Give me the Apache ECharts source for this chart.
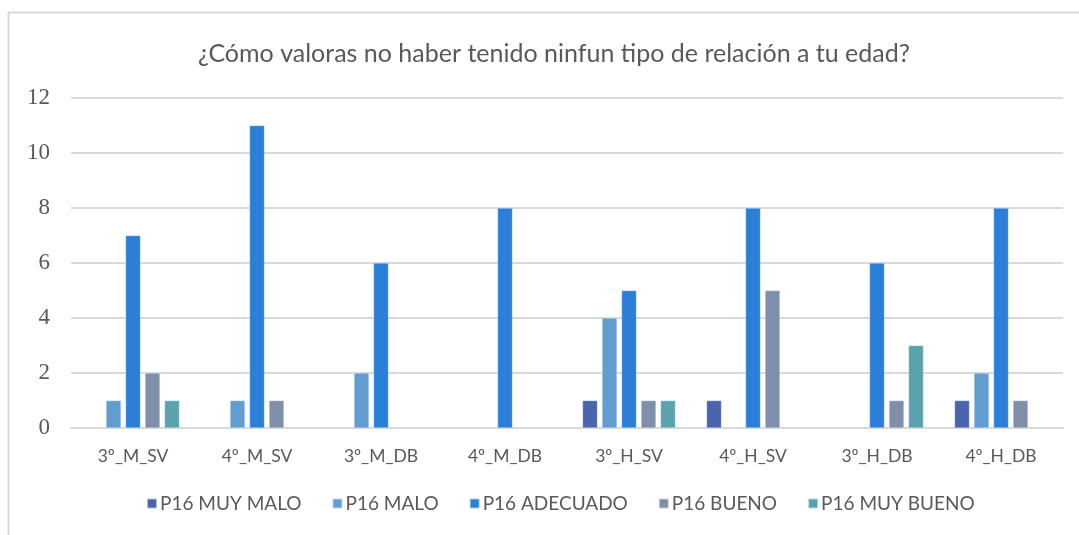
<!DOCTYPE html>
<html>
<head>
<meta charset="utf-8">
<script src="https://cdn.jsdelivr.net/npm/echarts@6/dist/echarts.min.js"></script>
<style>
  html, body { margin: 0; padding: 0; background: #fff; }
  #container { width: 1079px; height: 535px; }
</style>
</head>
<body>
<div id="container"></div>
<script>
var chartTitle = '¿Cómo valoras no haber tenido ninfun tipo de relación a tu edad?';
var categories = ['3º_M_SV', '4º_M_SV', '3º_M_DB', '4º_M_DB', '3º_H_SV', '4º_H_SV', '3º_H_DB', '4º_H_DB'];
var seriesNames = ['P16 MUY MALO', 'P16 MALO', 'P16 ADECUADO', 'P16 BUENO', 'P16 MUY BUENO'];
var muyMalo  = [0, 0, 0, 0, 1, 1, 0, 1];
var malo     = [1, 1, 2, 0, 4, 0, 0, 2];
var adecuado = [7, 11, 6, 8, 5, 8, 6, 8];
var bueno    = [2, 1, 0, 0, 1, 5, 1, 1];
var muyBueno = [1, 0, 0, 0, 1, 0, 3, 0];
var colors = ['#4a65ad', '#629dd1', '#2a7fd6', '#7f8fa9', '#5aa3ae'];

var seriesData = [muyMalo, malo, adecuado, bueno, muyBueno];

var chart = echarts.init(document.getElementById('container'));

// cero = sin barra
function toBars(arr) {
    return arr.map(function (v) { return v === 0 ? null : v; });
}

var series = seriesNames.map(function (name, i) {
    return {
        name: name,
        type: 'bar',
        data: toBars(seriesData[i]),
        barWidth: 15,
        barGap: '30%',
        itemStyle: { color: colors[i], borderColor: 'rgba(255,255,255,0.6)', borderWidth: 0.5 }
    };
});

chart.setOption({
    animation: false,
    color: colors,
    title: {
        text: chartTitle,
        left: 549,
        textAlign: 'center',
        top: 36,
        textStyle: { fontFamily: 'Lato', fontSize: 25, fontWeight: 'normal', color: '#595959' }
    },
    legend: {
        data: seriesNames,
        bottom: 17,
        left: 141,
        itemWidth: 10,
        itemHeight: 10,
        itemGap: 30,
        icon: 'rect',
        textStyle: { fontFamily: 'Lato', fontSize: 19, color: '#595959', padding: [0, 0, 0, -2] }
    },
    grid: { left: 71, right: 16, top: 98, bottom: 107 },
    xAxis: {
        type: 'category',
        data: categories,
        axisLine: { lineStyle: { color: '#d9d9d9', width: 2 } },
        axisTick: { show: false },
        axisLabel: { fontFamily: 'Lato', fontSize: 17.5, color: '#595959', margin: 19 }
    },
    yAxis: {
        type: 'value',
        min: 0,
        max: 12,
        interval: 2,
        axisLine: { show: false },
        axisTick: { show: false },
        splitLine: { lineStyle: { color: '#d9d9d9', width: 2 } },
        axisLabel: { fontFamily: 'Liberation Serif', fontSize: 23, color: '#595959', margin: 21 }
    },
    graphic: [
        { type: 'line', shape: { x1: 8.5, y1: 12, x2: 8.5, y2: 535 }, style: { stroke: '#d9d9d9', lineWidth: 2 } },
        { type: 'line', shape: { x1: 8, y1: 12.5, x2: 1079, y2: 12.5 }, style: { stroke: '#d9d9d9', lineWidth: 2 } }
    ],
    series: series
});
</script>
</body>
</html>
